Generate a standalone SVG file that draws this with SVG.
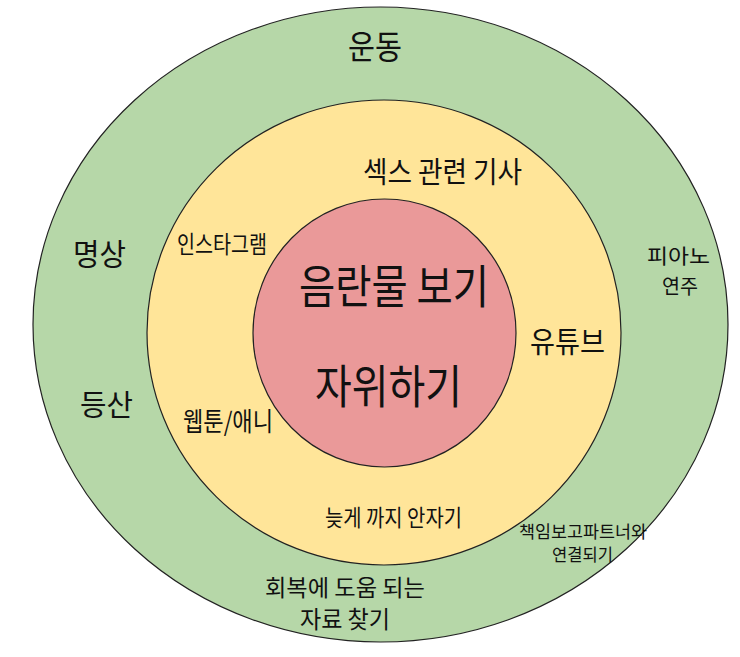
<svg xmlns="http://www.w3.org/2000/svg" width="740" height="657" viewBox="0 0 740 657">
<style>
.ring{stroke:#222;stroke-width:1.2}
text{font-family:"Noto Sans CJK KR","Noto Sans",sans-serif;fill:#111;text-anchor:middle}
</style>
<rect width="740" height="657" fill="#fff"/>
<g id="outer">
<ellipse class="ring" cx="380.5" cy="324.5" rx="347.5" ry="317.5" fill="#b6d7a8"/>
<text x="375" y="59" font-size="33" textLength="54" lengthAdjust="spacingAndGlyphs">운동</text>
<text x="99.5" y="265" font-size="30" textLength="53" lengthAdjust="spacingAndGlyphs">명상</text>
<text x="106.5" y="416" font-size="29" textLength="53" lengthAdjust="spacingAndGlyphs">등산</text>
<text x="678.5" y="264" font-size="20.5" textLength="63" lengthAdjust="spacingAndGlyphs">피아노</text>
<text x="680" y="294" font-size="20.5" textLength="36" lengthAdjust="spacingAndGlyphs">연주</text>
<text x="583" y="538" font-size="17.5" textLength="128" lengthAdjust="spacingAndGlyphs">책임보고파트너와</text>
<text x="582.5" y="561" font-size="17.5" textLength="61" lengthAdjust="spacingAndGlyphs">연결되기</text>
<text x="345" y="596" font-size="23" textLength="160" lengthAdjust="spacingAndGlyphs">회복에 도움 되는</text>
<text x="345" y="628" font-size="24" textLength="90" lengthAdjust="spacingAndGlyphs">자료 찾기</text>
</g>
<g id="middle">
<ellipse class="ring" cx="384" cy="332.5" rx="237" ry="232.5" fill="#ffe599"/>
<text x="442.5" y="183" font-size="29" textLength="159" lengthAdjust="spacingAndGlyphs">섹스 관련 기사</text>
<text x="222" y="253" font-size="24" textLength="90" lengthAdjust="spacingAndGlyphs">인스타그램</text>
<text x="567.5" y="353" font-size="29" textLength="75" lengthAdjust="spacingAndGlyphs">유튜브</text>
<text x="228" y="431" font-size="26" textLength="90" lengthAdjust="spacingAndGlyphs">웹툰/애니</text>
<text x="393.5" y="526" font-size="23" textLength="137" lengthAdjust="spacingAndGlyphs">늦게 까지 안자기</text>
</g>
<g id="inner">
<ellipse class="ring" cx="384.5" cy="333" rx="131.5" ry="134" fill="#ea9999"/>
<text x="394" y="303" font-size="46" textLength="190" lengthAdjust="spacingAndGlyphs">음란물 보기</text>
<text x="388.5" y="403" font-size="46" textLength="147" lengthAdjust="spacingAndGlyphs">자위하기</text>
</g>
<g id="connectors"/>
</svg>
